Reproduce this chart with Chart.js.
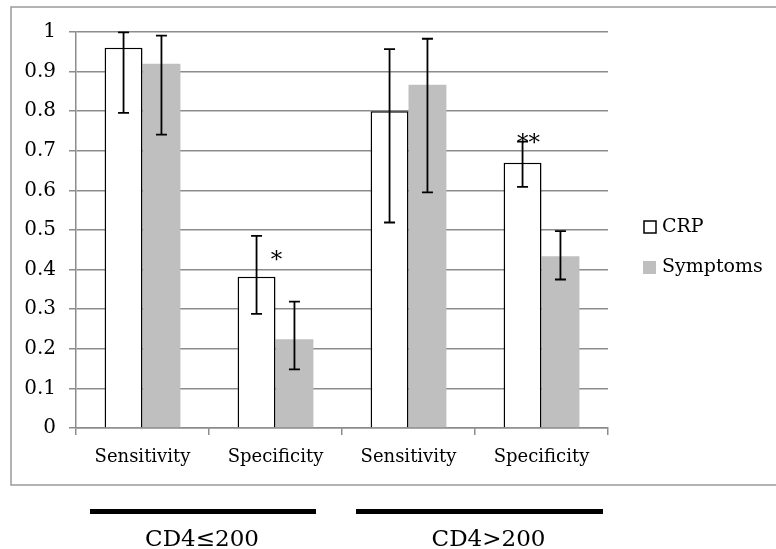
<!DOCTYPE html>
<html>
<head>
<meta charset="utf-8">
<script src="https://cdn.jsdelivr.net/npm/chart.js@4/dist/chart.umd.min.js"></script>
<style>
  html, body { margin: 0; padding: 0; background: #fff; }
  #wrap { width: 776px; height: 549px; }
</style>
</head>
<body>
<div id="wrap"><canvas id="chart" width="776" height="549"></canvas></div>
<script>
const categories = ['Sensitivity', 'Specificity', 'Sensitivity', 'Specificity'];
const groups = ['CD4≤200', 'CD4>200'];
const yTickLabels = ['0', '0.1', '0.2', '0.3', '0.4', '0.5', '0.6', '0.7', '0.8', '0.9', '1'];

const crp = [0.960, 0.382, 0.800, 0.670];
const crpLow = [0.796, 0.288, 0.519, 0.609];
const crpHigh = [0.999, 0.485, 0.957, 0.723];

const symptoms = [0.920, 0.224, 0.867, 0.434];
const symptomsLow = [0.741, 0.148, 0.595, 0.375];
const symptomsHigh = [0.991, 0.319, 0.983, 0.497];

const markers = ['', '*', '', '**'];

const FONT = "'DejaVu Serif', serif";

// error bars, asterisks, frame, legend and group labels
const extras = {
  id: 'extras',
  beforeDraw(chart) {
    const ctx = chart.ctx;
    ctx.save();
    ctx.strokeStyle = '#9a9a9a';
    ctx.lineWidth = 1.5;
    ctx.strokeRect(11, 7, 800, 478);
    ctx.restore();
  },
  afterDatasetsDraw(chart) {
    const ctx = chart.ctx;
    const y = chart.scales.y;
    const lows = [crpLow, symptomsLow];
    const highs = [crpHigh, symptomsHigh];
    ctx.save();
    ctx.strokeStyle = '#000';
    ctx.lineWidth = 1.8;
    for (let d = 0; d < 2; d++) {
      chart.getDatasetMeta(d).data.forEach((bar, j) => {
        const yl = y.getPixelForValue(lows[d][j]);
        const yh = y.getPixelForValue(highs[d][j]);
        ctx.beginPath();
        ctx.moveTo(bar.x, yl); ctx.lineTo(bar.x, yh);
        ctx.moveTo(bar.x - 5.5, yl); ctx.lineTo(bar.x + 5.5, yl);
        ctx.moveTo(bar.x - 5.5, yh); ctx.lineTo(bar.x + 5.5, yh);
        ctx.stroke();
      });
    }
    // significance markers
    ctx.fillStyle = '#000';
    ctx.font = '23px ' + FONT;
    ctx.textAlign = 'center';
    ctx.textBaseline = 'middle';
    chart.getDatasetMeta(0).data.forEach((bar, j) => {
      if (!markers[j]) return;
      const top = bar.y;
      const hi = y.getPixelForValue(crpHigh[j]);
      if (markers[j].length === 1) {
        ctx.fillText(markers[j], bar.x + bar.width / 2 + 1, (top + hi) / 2 + 5);
      } else {
        ctx.fillText(markers[j], bar.x + 6, hi + 2);
      }
    });
    ctx.restore();
  },
  afterDraw(chart) {
    const ctx = chart.ctx;
    const x = chart.scales.x;
    const half = (x.getPixelForValue(1) - x.getPixelForValue(0)) / 2;
    ctx.save();
    // legend
    ctx.font = '19px ' + FONT;
    ctx.textBaseline = 'middle';
    ctx.textAlign = 'left';
    ctx.fillStyle = '#fff';
    ctx.strokeStyle = '#000';
    ctx.lineWidth = 1.5;
    ctx.fillRect(644, 221, 12, 12);
    ctx.strokeRect(644, 221, 12, 12);
    ctx.fillStyle = '#000';
    ctx.fillText(chart.data.datasets[0].label, 662, 227);
    ctx.fillStyle = '#bfbfbf';
    ctx.fillRect(643, 261, 13, 13);
    ctx.fillStyle = '#000';
    ctx.fillText(chart.data.datasets[1].label, 662, 267);
    // group bars and labels
    const spans = [[0, 1], [2, 3]];
    ctx.font = '23px ' + FONT;
    ctx.textAlign = 'center';
    spans.forEach((s, g) => {
      const l = x.getPixelForValue(s[0]) - half + 14;
      const r = x.getPixelForValue(s[1]) + half - (g === 0 ? 26 : 5);
      ctx.fillStyle = '#000';
      ctx.fillRect(l, 509, r - l, 5);
      ctx.fillText(groups[g], (l + r) / 2 + (g === 0 ? -1 : 9), 540);
    });
    ctx.restore();
  }
};

new Chart(document.getElementById('chart'), {
  type: 'bar',
  data: {
    labels: categories,
    datasets: [
      {
        label: 'CRP',
        data: crp,
        backgroundColor: '#fff',
        borderColor: '#000',
        borderWidth: 1.5,
        categoryPercentage: 0.57,
        barPercentage: 1.0
      },
      {
        label: 'Symptoms',
        data: symptoms,
        backgroundColor: '#bfbfbf',
        borderWidth: 0,
        categoryPercentage: 0.57,
        barPercentage: 1.0
      }
    ]
  },
  options: {
    responsive: false,
    animation: false,
    layout: { padding: { left: 0, top: 32, right: 168, bottom: 81 } },
    plugins: {
      legend: { display: false },
      tooltip: { enabled: false }
    },
    scales: {
      x: {
        afterFit: s => { s.height = 40; },
        grid: {
          offset: true,
          drawOnChartArea: false,
          color: '#8c8c8c',
          lineWidth: 1.5,
          tickLength: 7
        },
        border: { color: '#8c8c8c', width: 1.5 },
        ticks: { color: '#000', font: { family: FONT, size: 18 }, padding: 12 }
      },
      y: {
        min: 0,
        max: 1,
        afterFit: s => { s.width = 76; },
        grid: { color: '#8c8c8c', lineWidth: 1.5, tickLength: 7 },
        border: { color: '#8c8c8c', width: 1.5 },
        ticks: {
          stepSize: 0.1,
          color: '#000',
          font: { family: FONT, size: 20 },
          padding: 13,
          callback: (v, i) => yTickLabels[i]
        }
      }
    }
  },
  plugins: [extras]
});
</script>
</body>
</html>
